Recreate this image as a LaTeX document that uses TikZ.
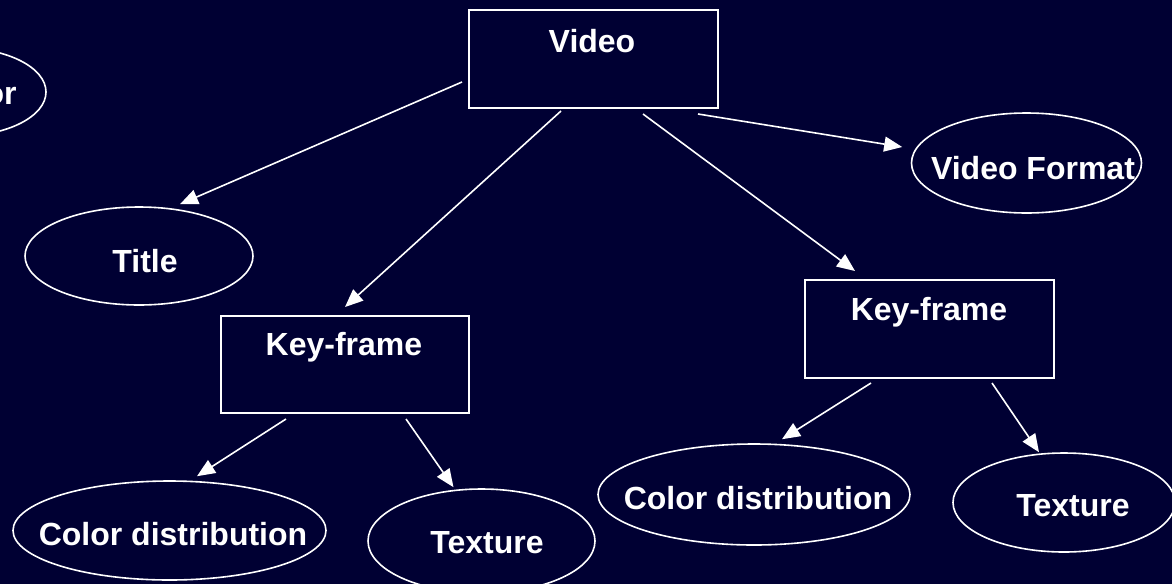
\documentclass[tikz,border=0pt]{standalone}
\usepackage{fontspec}
\setmainfont{Liberation Sans}
\usetikzlibrary{arrows.meta,shapes.geometric}
\definecolor{navy}{RGB}{0,0,51}
\tikzset{
  x=0.5pt,y=-0.5pt,
  box/.style={draw=white,line width=1pt,rectangle,inner sep=0pt},
  oval/.style={draw=white,line width=0.8pt,ellipse,inner sep=0pt},
  lbl/.style={text=white,font=\bfseries\fontsize{16}{18}\selectfont,inner sep=0pt},
  arr/.style={draw=white,line width=0.8pt,-{Triangle[length=9pt,width=7.5pt]}}
}
\begin{document}
\begin{tikzpicture}
\fill[navy] (0,0) rectangle (1172,584);
\useasboundingbox (0,0) rectangle (1172,584);
\begin{scope}
\clip (0,0) rectangle (1172,584);
% partial ellipse at left
\node[oval,minimum width=86pt,minimum height=44pt] (cut) at (-40,92) {};
\node[lbl,anchor=east] (cutt) at (17,96) {or};
% boxes
\node[box,minimum width=124.5pt,minimum height=49pt] (video) at (593.5,59) {};
\node[lbl] (videot) at (592,41) {Video};
\node[box,minimum width=124pt,minimum height=48.5pt] (kfL) at (345,364.5) {};
\node[lbl] (kfLt) at (344,347) {Key-frame};
\node[box,minimum width=124.5pt,minimum height=49pt] (kfR) at (929.5,329) {};
\node[lbl] (kfRt) at (929,312) {Key-frame};
% ellipses
\node[oval,minimum width=115pt,minimum height=50pt] (vf) at (1026.5,163) {};
\node[lbl] (vft) at (1033,168) {Video Format};
\node[oval,minimum width=114pt,minimum height=49pt] (title) at (139,256) {};
\node[lbl] (titlet) at (145,261) {Title};
\node[oval,minimum width=156.5pt,minimum height=49.5pt] (cdL) at (169.5,530.5) {};
\node[lbl] (cdLt) at (173,534) {Color distribution};
\node[oval,minimum width=113.5pt,minimum height=52pt] (txL) at (481.5,541) {};
\node[lbl] (txLt) at (487,543) {Texture};
\node[oval,minimum width=156pt,minimum height=50.5pt] (cdR) at (754,494.5) {};
\node[lbl] (cdRt) at (758,498) {Color distribution};
\node[oval,minimum width=111pt,minimum height=49.5pt] (txR) at (1064,502.5) {};
\node[lbl] (txRt) at (1073,506) {Texture};
% arrows
\draw[arr] ([shift={(-6,23)}]video.west) -- ([shift={(41,-2)}]title.north);
\draw[arr] ([shift={(-32.5,2)}]video.south) -- ([shift={(0,-8)}]kfL.north);
\draw[arr] ([shift={(49.5,5)}]video.south) -- ([shift={(-74.5,-8)}]kfR.north);
\draw[arr] ([shift={(-21,5)}]video.south east) -- ([shift={(-8.5,-16)}]vf.west);
\draw[arr] ([shift={(-59,5)}]kfL.south) -- ([shift={(27.5,-4)}]cdL.north);
\draw[arr] ([shift={(61,5)}]kfL.south) -- ([shift={(-28,-1)}]txL.north);
\draw[arr] ([shift={(-58.5,4)}]kfR.south) -- ([shift={(28,-4)}]cdR.north);
\draw[arr] ([shift={(62.5,4)}]kfR.south) -- ([shift={(-25,0)}]txR.north);
\end{scope}
\end{tikzpicture}
\end{document}
